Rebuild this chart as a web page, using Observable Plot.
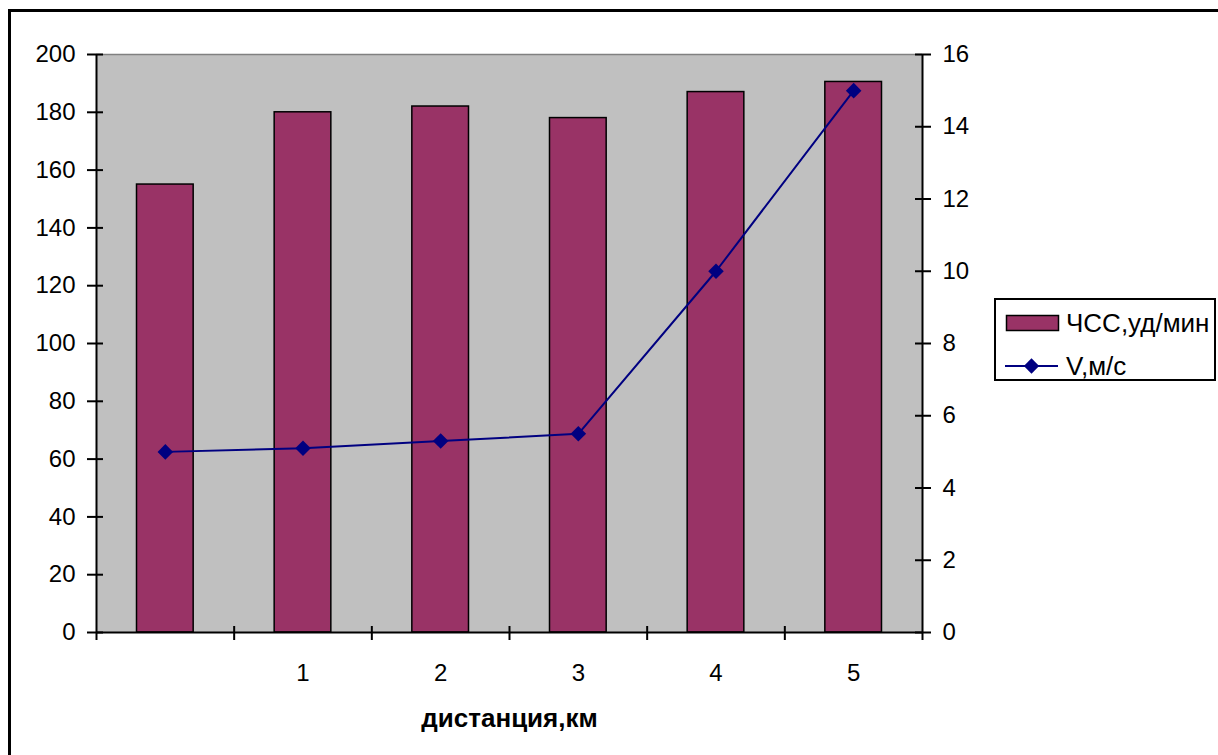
<!DOCTYPE html>
<html>
<head>
<meta charset="utf-8">
<script src="https://cdn.jsdelivr.net/npm/d3@7"></script>
<script src="https://cdn.jsdelivr.net/npm/@observablehq/plot@0.6"></script>
<style>
  html, body { margin: 0; padding: 0; background: #fff; overflow: hidden; }
  #wrap { position: relative; width: 1218px; height: 755px; font-family: "Liberation Sans", Arial, sans-serif; }
  #border { position: absolute; left: 8px; top: 9px; width: 1400px; height: 1000px; border: 3px solid #000; box-sizing: border-box; }
  #chart { position: absolute; left: 0; top: 0; }
  #legend { position: absolute; left: 994px; top: 298px; width: 222px; height: 83px; border: 2px solid #000; box-sizing: border-box; background: #fff; font-size: 26px; color: #000; }
  #legend .item { position: absolute; left: 0; height: 30px; }
  #legend .label { position: absolute; left: 70px; line-height: 30px; white-space: nowrap; }
</style>
</head>
<body>
<div id="wrap">
  <div id="border"></div>
  <div id="chart"></div>
  <div id="legend"></div>
</div>
<script>
// Distance categories (the first one is unlabeled)
const distance = ["", "1", "2", "3", "4", "5"];
// Heart rate, beats per minute (left axis)
const heartRate = [155, 180, 182, 178, 187, 190.5];
// Speed, m/s (right axis)
const speed = [5, 5.1, 5.3, 5.5, 10, 15];

const hrTicks = d3.range(0, 201, 20);
const speedTicks = d3.range(0, 17, 2);
const seriesNames = ["ЧСС,уд/мин", "V,м/с"];
const axisTitle = "дистанция,км";

// Speed is drawn against the heart-rate scale: 16 m/s maps onto 200
const k = 200 / 16;

const barColor = "#993366";
const lineColor = "#000080";

const rows = distance.map((c, i) => ({i, c, hr: heartRate[i], v: speed[i]}));

const chart = Plot.plot({
  width: 1218,
  height: 755,
  marginLeft: 96,
  marginRight: 296,
  marginTop: 54,
  marginBottom: 123,
  x: {domain: [0, distance.length]},
  y: {domain: [0, 200]},
  style: {fontFamily: "'Liberation Sans', Arial, sans-serif", fontSize: "24px", background: "transparent", color: "#000", overflow: "visible"},
  marks: [
    Plot.frame({fill: "#c0c0c0", stroke: null}),
    Plot.rectY(rows, {x1: "i", x2: d => d.i + 1, y: "hr", fill: barColor, stroke: "#000", strokeWidth: 1.5, insetLeft: 40.5, insetRight: 40.5}),
    Plot.ruleY([200], {stroke: "#808080", strokeWidth: 1.5}),
    Plot.ruleX([0, distance.length], {stroke: "#000", strokeWidth: 2}),
    Plot.ruleY([0], {stroke: "#000", strokeWidth: 2}),
    Plot.lineY(rows, {x: d => d.i + 0.5, y: d => d.v * k, stroke: lineColor, strokeWidth: 2}),
    Plot.dot(rows, {x: d => d.i + 0.5, y: d => d.v * k, symbol: "diamond2", r: 7, fill: lineColor, stroke: null}),
    // left axis (heart rate)
    Plot.axisY(hrTicks, {anchor: "left", label: null, tickSize: 9, tickPadding: 12, strokeWidth: 2}),
    Plot.axisY(hrTicks, {anchor: "left", label: null, tickSize: -7, tickFormat: () => "", strokeWidth: 2}),
    // right axis (speed)
    Plot.axisY(speedTicks.map(v => v * k), {anchor: "right", label: null, tickSize: 8, tickPadding: 12, tickFormat: d => String(Math.round(d / k)), strokeWidth: 2}),
    Plot.axisY(speedTicks.map(v => v * k), {anchor: "right", label: null, tickSize: -8, tickFormat: () => "", strokeWidth: 2}),
    // category boundaries on the x axis
    Plot.axisX(d3.range(0, distance.length + 1), {label: null, tickSize: 8, tickFormat: () => "", strokeWidth: 2}),
    Plot.axisX(d3.range(1, distance.length), {label: null, tickSize: -6, tickFormat: () => "", strokeWidth: 2}),
    // category labels
    Plot.axisX(distance.map((c, i) => i + 0.5), {label: null, tickSize: 0, tickPadding: 31, tickFormat: d => distance[Math.floor(d)]}),
    Plot.text([axisTitle], {frameAnchor: "bottom", lineAnchor: "middle", dy: 86, fontWeight: "bold", fontSize: 26})
  ]
});
document.getElementById("chart").appendChild(chart);

// Legend
const legend = d3.select("#legend");
const item1 = legend.append("div").attr("class", "item").style("top", "8px").style("width", "220px");
item1.append("svg").attr("width", 66).attr("height", 30).style("position", "absolute").style("left", "0")
  .append("rect").attr("x", 10.5).attr("y", 7.5).attr("width", 52).attr("height", 15)
  .attr("fill", barColor).attr("stroke", "#000").attr("stroke-width", 1.5);
item1.append("div").attr("class", "label").text(seriesNames[0]);

const item2 = legend.append("div").attr("class", "item").style("top", "51px").style("width", "220px");
const s2 = item2.append("svg").attr("width", 66).attr("height", 30).style("position", "absolute").style("left", "0");
s2.append("line").attr("x1", 9).attr("x2", 62).attr("y1", 15).attr("y2", 15).attr("stroke", lineColor).attr("stroke-width", 2);
s2.append("path").attr("d", d3.symbol(d3.symbolDiamond2, 150)()).attr("transform", "translate(35.5,15)").attr("fill", lineColor);
item2.append("div").attr("class", "label").text(seriesNames[1]);
</script>
</body>
</html>
